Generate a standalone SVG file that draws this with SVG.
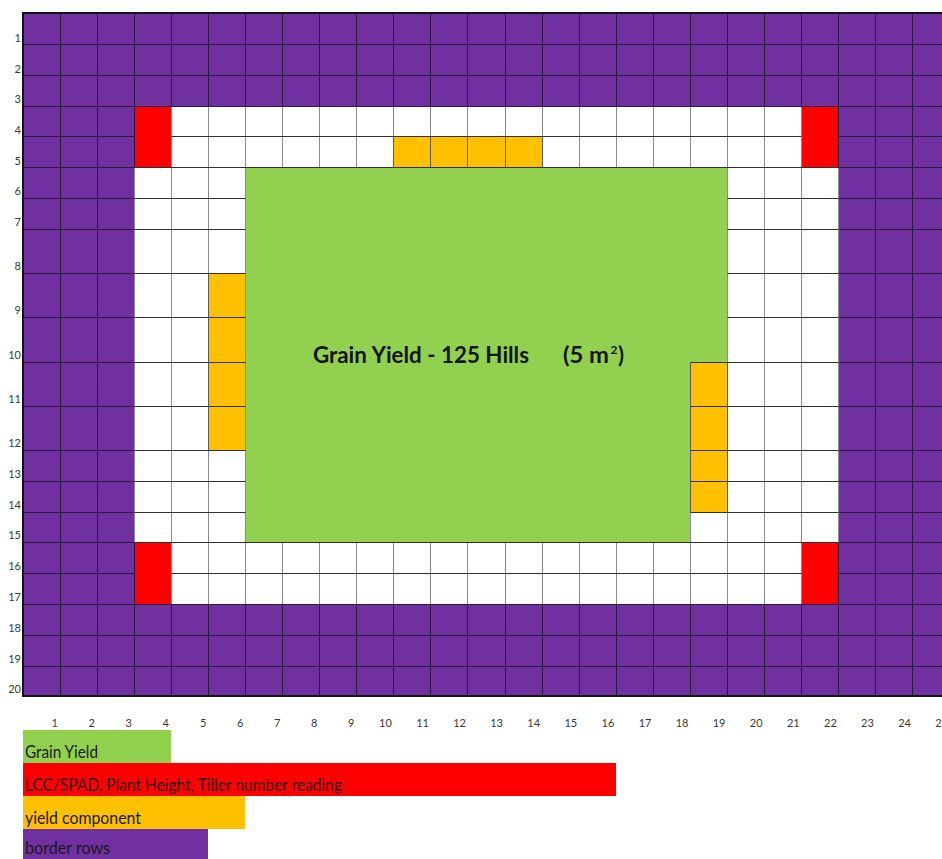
<svg xmlns="http://www.w3.org/2000/svg" width="942" height="859" viewBox="0 0 942 859">
<style>
.pl{stroke:#2b1a3d;stroke-width:1;fill:none}
.hl{stroke:#303030;stroke-width:1;fill:none}
.vl{stroke:#8c8c8c;stroke-width:1;fill:none}
.ol{stroke:#5a5a5a;stroke-width:1;fill:none}
.num{font-family:Lato,"Open Sans","Liberation Sans",sans-serif;font-size:11px;fill:#3a3a3a}
.rn{text-anchor:end}
.cn{text-anchor:end}
.leg{font-family:Lato,"Open Sans","Liberation Sans",sans-serif;font-size:16.5px;fill:#1a1a1a}
.title{font-family:Lato,"Open Sans","Liberation Sans",sans-serif;font-weight:bold;font-size:22px;fill:#141414}
</style>
<rect x="0" y="0" width="942" height="859" fill="#ffffff"/>
<g id="plot">
  <rect id="border-area" x="23" y="13" width="919" height="683" fill="#7030A0"/>
  <g id="border-grid" class="pl">
    <path d="M60.5,13V696M97.5,13V696M134.5,13V696M171.5,13V696M208.5,13V696M245.5,13V696M282.5,13V696M319.5,13V696M356.5,13V696M393.5,13V696M430.5,13V696M467.5,13V696M505.5,13V696M542.5,13V696M579.5,13V696M616.5,13V696M653.5,13V696M690.5,13V696M727.5,13V696M764.5,13V696M801.5,13V696M838.5,13V696M875.5,13V696M912.5,13V696"/>
    <path d="M23,44.5H942M23,75.5H942M23,106.5H942M23,136.5H942M23,167.5H942M23,198.5H942M23,229.5H942M23,273.5H942M23,317.5H942M23,362.5H942M23,406.5H942M23,450.5H942M23,481.5H942M23,512.5H942M23,542.5H942M23,573.5H942M23,604.5H942M23,635.5H942M23,666.5H942"/>
  </g>
  <rect id="inner-area" x="134.5" y="106.5" width="704" height="498" fill="#ffffff"/>
  <g id="tiller-cells" fill="#FF0000">
    <rect x="134.5" y="106.5" width="37" height="61"/>
    <rect x="801.5" y="106.5" width="37" height="61"/>
    <rect x="134.5" y="542.5" width="37" height="62"/>
    <rect x="801.5" y="542.5" width="37" height="62"/>
  </g>
  <g id="yield-component-cells" fill="#FFC000">
    <rect x="393.5" y="136.5" width="149" height="31"/>
    <rect x="208.5" y="273.5" width="37" height="177"/>
    <rect x="690.5" y="362.5" width="37" height="150"/>
  </g>
  <path id="grain-yield-area" d="M245.5,167.5H727.5V362.5H690.5V542.5H245.5Z" fill="#92D050"/>
  <g id="inner-grid">
    <path class="vl" d="M171.5,106.5V604.5M208.5,106.5V604.5M245.5,106.5V604.5M727.5,106.5V604.5M764.5,106.5V604.5M801.5,106.5V604.5M134.5,167.5V542.5M838.5,167.5V542.5"/>
    <path class="vl" d="M282.5,106.5V167.5M319.5,106.5V167.5M356.5,106.5V167.5M393.5,106.5V167.5M430.5,106.5V167.5M467.5,106.5V167.5M505.5,106.5V167.5M542.5,106.5V167.5M579.5,106.5V167.5M616.5,106.5V167.5M653.5,106.5V167.5M690.5,106.5V167.5"/>
    <path class="vl" d="M282.5,542.5V604.5M319.5,542.5V604.5M356.5,542.5V604.5M393.5,542.5V604.5M430.5,542.5V604.5M467.5,542.5V604.5M505.5,542.5V604.5M542.5,542.5V604.5M579.5,542.5V604.5M616.5,542.5V604.5M653.5,542.5V604.5M690.5,512.5V604.5"/>
    <path class="hl" d="M171.5,136.5H801.5M134.5,167.5H838.5M134.5,542.5H838.5M171.5,573.5H801.5"/>
    <path class="hl" d="M134.5,198.5H245.5M727.5,198.5H838.5M134.5,229.5H245.5M727.5,229.5H838.5M134.5,273.5H245.5M727.5,273.5H838.5M134.5,317.5H245.5M727.5,317.5H838.5M134.5,362.5H245.5M690.5,362.5H838.5M134.5,406.5H245.5M690.5,406.5H838.5M134.5,450.5H245.5M690.5,450.5H838.5M134.5,481.5H245.5M690.5,481.5H838.5M134.5,512.5H245.5M690.5,512.5H838.5"/>
    <path class="ol" d="M393.5,136.5V167.5M430.5,136.5V167.5M467.5,136.5V167.5M505.5,136.5V167.5M542.5,136.5V167.5M208.5,273.5V450.5M690.5,362.5V512.5M727.5,362.5V512.5"/>
    <path class="pl" d="M134.5,106.5H838.5M134.5,604.5H838.5M134.5,106.5V167.5M838.5,106.5V167.5M134.5,542.5V604.5M838.5,542.5V604.5"/>
  </g>
  <path id="outer-frame" d="M942,13H23V696H942" fill="none" stroke="#141414" stroke-width="2"/>
  <text class="title" x="313" y="363" textLength="216" lengthAdjust="spacingAndGlyphs">Grain Yield - 125 Hills</text>
  <text class="title" x="563" y="363" textLength="46" lengthAdjust="spacingAndGlyphs">(5 m</text>
  <text class="title" x="610.5" y="354" style="font-size:12px">2</text>
  <text class="title" x="618" y="363">)</text>
</g>
<g id="row-labels" class="num rn">
  <text x="21" y="41.5">1</text><text x="21" y="72.5">2</text><text x="21" y="103">3</text><text x="21" y="133.5">4</text><text x="21" y="164.5">5</text><text x="21" y="195">6</text><text x="21" y="226">7</text><text x="21" y="270">8</text><text x="21" y="314">9</text><text x="21" y="359">10</text><text x="21" y="403">11</text><text x="21" y="447">12</text><text x="21" y="478">13</text><text x="21" y="509">14</text><text x="21" y="539">15</text><text x="21" y="570">16</text><text x="21" y="601">17</text><text x="21" y="632">18</text><text x="21" y="663">19</text><text x="21" y="693">20</text>
</g>
<g id="column-labels" class="num cn">
  <text x="58" y="727">1</text><text x="95" y="727">2</text><text x="132" y="727">3</text><text x="169" y="727">4</text><text x="206.5" y="727">5</text><text x="243.5" y="727">6</text><text x="280.5" y="727">7</text><text x="317.5" y="727">8</text><text x="354.5" y="727">9</text><text x="391.8" y="727">10</text><text x="428.9" y="727">11</text><text x="466" y="727">12</text><text x="503" y="727">13</text><text x="540.1" y="727">14</text><text x="577.2" y="727">15</text><text x="614.3" y="727">16</text><text x="651.4" y="727">17</text><text x="688.4" y="727">18</text><text x="725.5" y="727">19</text><text x="762.6" y="727">20</text><text x="799.7" y="727">21</text><text x="836.8" y="727">22</text><text x="873.8" y="727">23</text><text x="911" y="727">24</text><text x="948" y="727">25</text>
</g>
<g id="legend">
  <g id="legend-grain-yield">
    <rect x="23" y="730" width="148" height="33" fill="#92D050"/>
    <text class="leg" x="25" y="758" textLength="73" lengthAdjust="spacingAndGlyphs">Grain Yield</text>
  </g>
  <g id="legend-readings">
    <rect x="23" y="763" width="593" height="33" fill="#FF0000"/>
    <text class="leg" x="25" y="791" textLength="317" lengthAdjust="spacingAndGlyphs" style="fill:#3a0000">LCC/SPAD, Plant Height, Tiller number reading</text>
  </g>
  <g id="legend-yield-component">
    <rect x="23" y="796" width="222" height="33" fill="#FFC000"/>
    <text class="leg" x="25" y="824" textLength="116" lengthAdjust="spacingAndGlyphs">yield component</text>
  </g>
  <g id="legend-border-rows">
    <rect x="23" y="829" width="185" height="33" fill="#7030A0"/>
    <text class="leg" x="25" y="854" textLength="85" lengthAdjust="spacingAndGlyphs">border rows</text>
  </g>
</g>
</svg>
